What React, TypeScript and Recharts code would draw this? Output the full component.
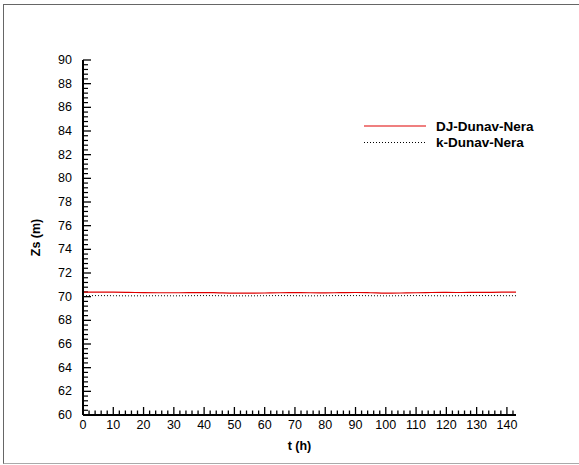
import React from 'react';
import { LineChart, Line, XAxis, YAxis, Legend, ReferenceLine } from 'recharts';

const hours = [0, 5, 10, 15, 20, 25, 30, 35, 40, 45, 50, 55, 60, 65, 70, 75, 80, 85, 90, 95, 100, 105, 110, 115, 120, 125, 130, 135, 140, 143];
const djDunavNera = [70.38, 70.39, 70.38, 70.36, 70.34, 70.33, 70.33, 70.34, 70.35, 70.32, 70.3, 70.3, 70.31, 70.33, 70.34, 70.33, 70.32, 70.34, 70.35, 70.33, 70.3, 70.31, 70.33, 70.35, 70.36, 70.35, 70.36, 70.37, 70.38, 70.38];
const kDunavNera = [70.08, 70.09, 70.08, 70.07, 70.07, 70.08, 70.07, 70.08, 70.09, 70.08, 70.07, 70.07, 70.08, 70.09, 70.08, 70.07, 70.08, 70.09, 70.09, 70.08, 70.07, 70.08, 70.09, 70.08, 70.07, 70.08, 70.09, 70.09, 70.08, 70.08];

const xMajorLabels = [0, 10, 20, 30, 40, 50, 60, 70, 80, 90, 100, 110, 120, 130, 140];
const yMajorLabels = [60, 62, 64, 66, 68, 70, 72, 74, 76, 78, 80, 82, 84, 86, 88, 90];
const xDomain = [0, 143];
const yDomain = [60, 90];
const xMinorStep = 2;
const yMinorStep = 0.4;

const xTicks: number[] = [];
for (let i = 0; i * xMinorStep <= xDomain[1]; i++) xTicks.push(i * xMinorStep);
const yMinorTicks: number[] = [];
for (let i = 0; yDomain[0] + i * yMinorStep <= yDomain[1] + 1e-9; i++) {
  const v = Math.round((yDomain[0] + i * yMinorStep) * 10) / 10;
  if (!yMajorLabels.some((m) => Math.abs(m - v) < 1e-6)) yMinorTicks.push(v);
}

const data = hours.map((h, i) => ({ t: h, dj: djDunavNera[i], k: kDunavNera[i] }));

const FONT = '"Liberation Sans", Arial, sans-serif';

const isMajor = (v: number, list: number[]) => list.some((m) => Math.abs(m - v) < 1e-6);

const YTick = (props: any) => {
  const { x, y, payload } = props;
  const v = payload.value;
  return (
    <g>
      <line x1={x} y1={y} x2={x + 8} y2={y} stroke="#000" strokeWidth={1.3} />
      <text x={x - 11} y={y} textAnchor="end" dominantBaseline="central" fontSize={12.5} fontFamily={FONT} fill="#000">
        {v}
      </text>
    </g>
  );
};

const MinorYTick = (props: any) => {
  const left = Math.min(props.x1, props.x2);
  return <line x1={left} y1={props.y1} x2={left + 5} y2={props.y1} stroke="#000" strokeWidth={1.2} />;
};

const XTick = (props: any) => {
  const { x, y, payload } = props;
  const v = payload.value;
  const major = isMajor(v, xMajorLabels);
  return (
    <g>
      <line x1={x} y1={y} x2={x} y2={y - (major ? 8 : 4.5)} stroke="#000" strokeWidth={1.3} />
      {major && (
        <text x={x} y={y + 10} textAnchor="middle" dominantBaseline="central" fontSize={12.5} fontFamily={FONT} fill="#000">
          {v}
        </text>
      )}
    </g>
  );
};

const LegendContent = (props: any) => {
  const items = props.payload || [];
  return (
    <svg width={200} height={40} style={{ overflow: 'visible' }}>
      {items.map((it: any, i: number) => (
        <g key={i}>
          <line
            x1={0}
            x2={62}
            y1={6 + i * 16.5}
            y2={6 + i * 16.5}
            stroke={it.color}
            strokeWidth={it.payload?.strokeWidth || 1.3}
            strokeDasharray={it.payload?.strokeDasharray}
          />
          <text x={72} y={6 + i * 16.5} dominantBaseline="central" fontSize={13.5} fontWeight="bold" fontFamily={FONT} fill="#000">
            {it.value}
          </text>
        </g>
      ))}
    </svg>
  );
};

export default function App() {
  return (
    <div style={{ position: 'absolute', left: 0, top: 0, width: 579, height: 465, background: '#fff' }}>
      <div
        style={{
          position: 'absolute',
          left: 3,
          top: 4,
          width: 580,
          height: 458,
          borderTop: '1px solid #666',
          borderLeft: '1px solid #666',
          borderBottom: '1px solid #aaa',
        }}
      />
      <div style={{ position: 'absolute', left: 0, top: 0 }}>
        <LineChart width={579} height={465} data={data} margin={{ top: 60, right: 63, left: 0, bottom: 0 }}>
          <XAxis
            dataKey="t"
            type="number"
            domain={xDomain}
            ticks={xTicks}
            interval={0}
            height={50}
            tickSize={0}
            tickMargin={0}
            tick={<XTick />}
            axisLine={{ stroke: '#000', strokeWidth: 2 }}
            allowDataOverflow
            label={(p: any) => {
              const vb = p.viewBox;
              return (
                <text x={vb.x + vb.width / 2} y={vb.y + 31} textAnchor="middle" dominantBaseline="central" fontSize={12.5} fontWeight="bold" fontFamily={FONT} fill="#000">
                  t (h)
                </text>
              );
            }}
          />
          <YAxis
            type="number"
            domain={yDomain}
            ticks={yMajorLabels}
            interval={0}
            width={83}
            tickSize={0}
            tickMargin={0}
            tick={<YTick />}
            axisLine={{ stroke: '#000', strokeWidth: 2 }}
            allowDataOverflow
            label={(p: any) => {
              const vb = p.viewBox;
              const cx = vb.x + 36;
              const cy = vb.y + vb.height / 2;
              return (
                <text x={cx} y={cy} transform={`rotate(-90 ${cx} ${cy})`} textAnchor="middle" dominantBaseline="central" fontSize={12.5} fontWeight="bold" fontFamily={FONT} fill="#000">
                  Zs (m)
                </text>
              );
            }}
          />
          {yMinorTicks.map((v) => (
            <ReferenceLine key={`ym-${v}`} y={v} shape={MinorYTick} />
          ))}
          <Legend
            layout="horizontal"
            verticalAlign="middle"
            align="center"
            wrapperStyle={{ position: 'absolute', left: 364, top: 120, width: 200 }}
            content={<LegendContent />}
          />
          <Line
            name="DJ-Dunav-Nera"
            dataKey="dj"
            stroke="#e00000"
            strokeWidth={1.2}
            dot={false}
            type="monotone"
            isAnimationActive={false}
          />
          <Line
            name="k-Dunav-Nera"
            dataKey="k"
            stroke="#000"
            strokeWidth={1}
            strokeDasharray="1 2"
            dot={false}
            type="monotone"
            isAnimationActive={false}
          />
        </LineChart>
      </div>
    </div>
  );
}
